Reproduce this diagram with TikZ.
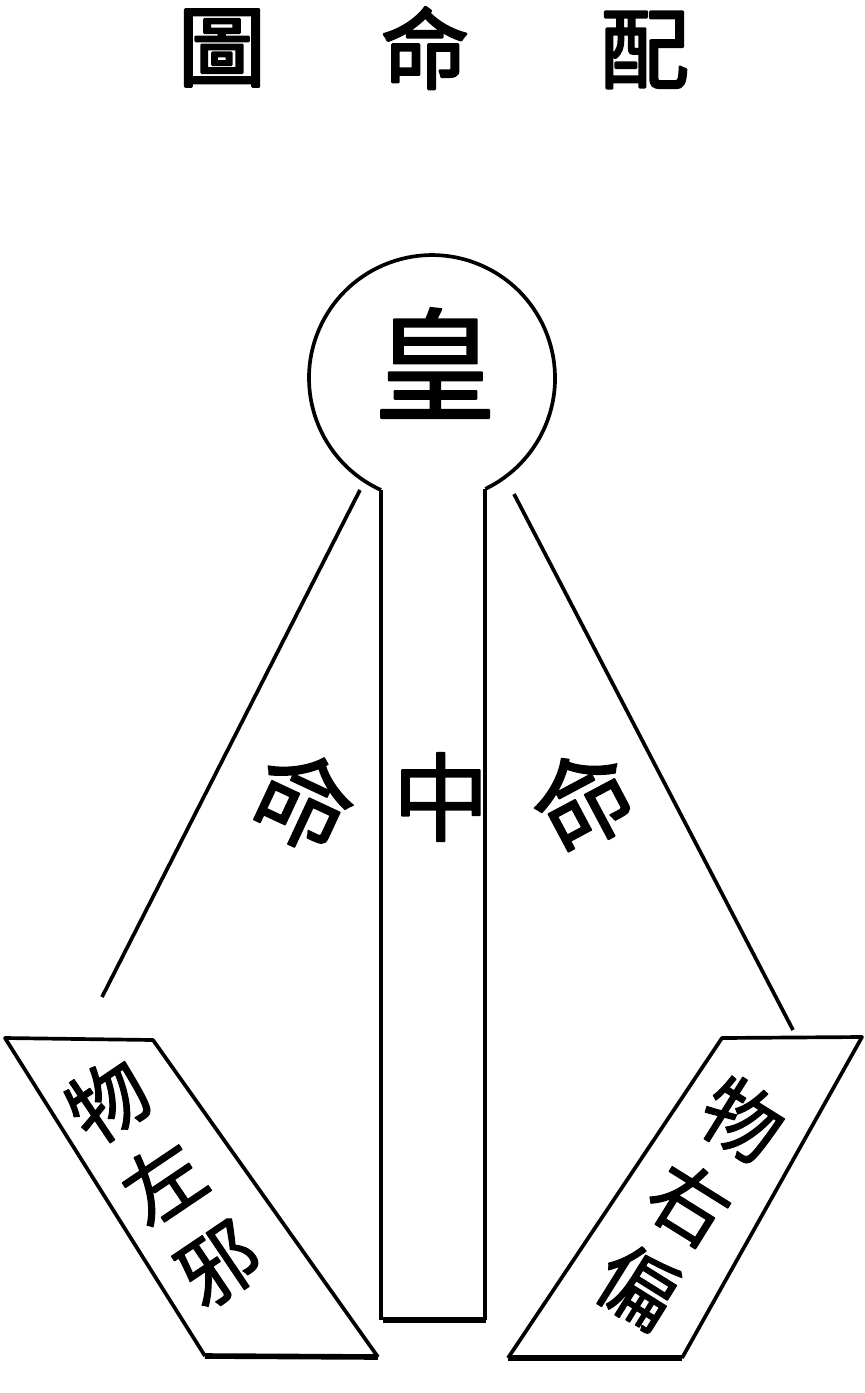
\documentclass[tikz,border=0pt]{standalone}
\usepackage{fontspec}
\newfontfamily\cjk[FakeBold=1.5]{Noto Sans CJK TC}
\newfontfamily\cjkhead[FakeBold=3]{Noto Sans CJK TC}
\usetikzlibrary{positioning}

\begin{document}
\begin{tikzpicture}[x=0.02cm,y=-0.02cm,line width=2.1pt,line join=round,
    zi/.style={font=\cjk\fontsize{#1}{56pt}\selectfont,inner sep=0pt,align=center},
    heavy/.style={line width=3.2pt}]
  \useasboundingbox (0,0) rectangle (865,1393);
  % title
  \node[zi=50pt,font=\cjkhead\fontsize{50pt}{50pt}\selectfont] (tuA) at (222,48) {圖};
  \node[zi=50pt,font=\cjkhead\fontsize{50pt}{50pt}\selectfont] (tuB) at (425,48) {命};
  \node[zi=50pt,font=\cjkhead\fontsize{50pt}{50pt}\selectfont] (tuC) at (645,50) {配};
  % head and stem
  \coordinate (cen) at (432,378);
  \coordinate (jL) at (381,490);
  \coordinate (jR) at (485,489);
  \coordinate (bL) at (383,1320);
  \coordinate (bR) at (486,1320);
  \draw (jL) arc[start angle=114.5, end angle=424.3, radius=123];
  \draw (jL) -- (jL |- bL);
  \draw (jR) -- (jR |- bR);
  \draw[heavy] (bL) -- (bR);
  \node[zi=70pt] (huang) at (435,363) {皇};
  \node[zi=55pt] (zhong) at (441,797) {中};
  % side rays
  \coordinate (dL0) at (360,490);
  \coordinate (dL1) at (102,997);
  \coordinate (dR0) at (514,494);
  \coordinate (dR1) at (793,1030);
  \draw (dL0) -- (dL1);
  \draw (dR0) -- (dR1);
  \node[zi=57pt,rotate=-25] (mingL) at (304,800) {命};
  \node[zi=57pt,rotate=28] (mingR) at (583,800) {命};
  % the two boards
  \coordinate (pL1) at (5,1038);
  \coordinate (pL2) at (153,1040);
  \coordinate (pL3) at (378,1357);
  \coordinate (pL4) at (205,1356);
  \draw (pL4) -- (pL1) -- (pL2) -- (pL3);
  \draw[heavy] (pL3) -- (pL4);
  \coordinate (pR1) at (722,1038);
  \coordinate (pR2) at (862,1037);
  \coordinate (pR3) at (682,1358);
  \coordinate (pR4) at (508,1358);
  \draw (pR3) -- (pR2) -- (pR1) -- (pR4);
  \draw[heavy] (pR4) -- (pR3);
  \node[zi=45pt,rotate=34] (wuL) at (163,1182) {物\\左\\邪};
  \node[zi=45pt,rotate=-32] (wuR) at (690,1203) {物\\右\\偏};
\end{tikzpicture}
\end{document}
